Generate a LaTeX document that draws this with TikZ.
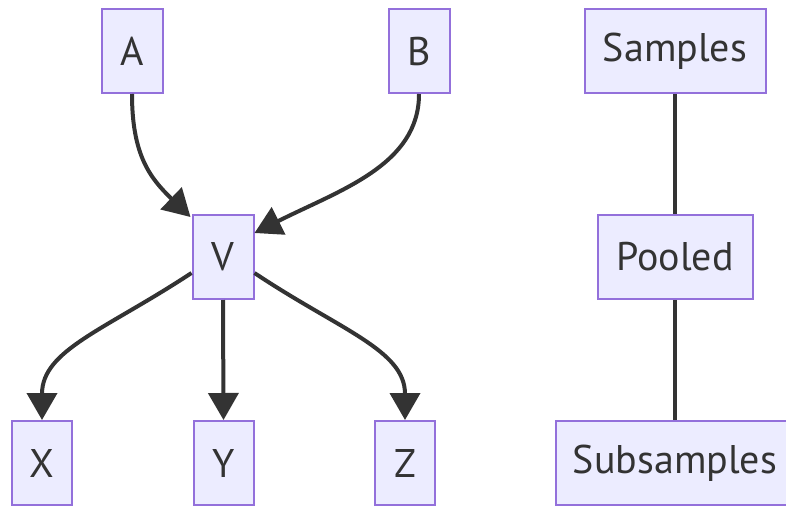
\documentclass[tikz,border=0pt]{standalone}
\usepackage{fontspec}
\setmainfont{PT Sans}
\usetikzlibrary{arrows.meta}
\definecolor{nodefill}{HTML}{ECECFF}
\definecolor{nodeline}{HTML}{9370DB}
\definecolor{edgecol}{HTML}{333333}
\begin{document}
\begin{tikzpicture}[x=1pt,y=-1pt,
  box/.style={draw=nodeline,fill=nodefill,line width=2pt,minimum height=84pt,inner sep=0pt,
    font=\fontsize{40}{44}\selectfont,text=edgecol},
  edge/.style={draw=edgecol,line width=4pt},
  arr/.style={edge,-{Triangle[length=27pt,width=30pt]}}]
\useasboundingbox (0,0) rectangle (786,506);
\begin{scope}
\clip (0,0) rectangle (786,506);
\node[box,minimum width=61pt] (A) at (132,51) {A};
\node[box,minimum width=61pt] (B) at (419,51) {B};
\node[box,minimum width=181pt] (S) at (675,51) {Samples};
\node[box,minimum width=61pt] (V) at (223,257) {V};
\node[box,minimum width=155pt] (P) at (675,257) {Pooled};
\node[box,minimum width=60pt] (X) at (42,463) {X};
\node[box,minimum width=60pt] (Y) at (223.5,463) {Y};
\node[box,minimum width=60pt] (Z) at (405,463) {Z};
\node[box,minimum width=238pt] (SS) at (675,463) {Subsamples};
\end{scope}
\coordinate (avin) at ([xshift=-1pt,yshift=-3pt]V.north west);
\coordinate (bvin) at ([yshift=24pt]V.east);
\coordinate (vxo) at ([yshift=-16pt]V.west);
\coordinate (vzo) at ([yshift=-16pt]V.east);
\draw[arr] (A.south) .. controls (132,155) and (150,178) .. (avin);
\draw[arr] (B.south) .. controls (419,165) and (340,190) .. (bvin);
\draw[arr] (vxo) .. controls (105,330) and (42,350) .. (X.north);
\draw[arr] (V.south) -- (Y.north);
\draw[arr] (vzo) .. controls (340,330) and (405,350) .. (Z.north);
\draw[edge] (S.south) -- (P.north);
\draw[edge] (P.south) -- (SS.north);
\end{tikzpicture}
\end{document}
